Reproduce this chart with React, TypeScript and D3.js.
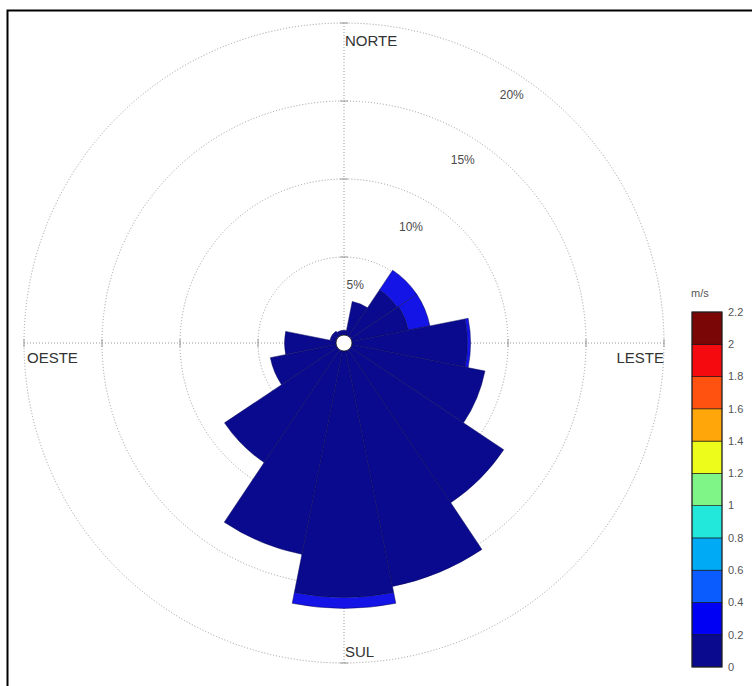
import React from "react";
import * as d3 from "d3";

// Wind rose: 16 compass sectors, frequency (%) stacked by wind-speed class
const directions = ["N", "NNE", "NE", "ENE", "E", "ESE", "SE", "SSE", "S", "SSW", "SW", "WSW", "W", "WNW", "NW", "NNW"];
const freqClass1 = [0.3, 2.2, 3.6, 3.7, 7.4, 8.7, 11.8, 15.4, 15.8, 13.3, 8.7, 4.3, 3.3, 0.4, 0.4, 0.3]; // 0–0.2 m/s
const freqClass2 = [0, 0, 1.5, 1.4, 0.2, 0, 0, 0, 0.7, 0, 0, 0, 0, 0, 0, 0]; // 0.2–0.4 m/s

const ringValues = [5, 10, 15, 20];
const ringLabels = ["5%", "10%", "15%", "20%"];
const compassLabels = ["NORTE", "LESTE", "SUL", "OESTE"];

const speedTicks = [0, 0.2, 0.4, 0.6, 0.8, 1, 1.2, 1.4, 1.6, 1.8, 2, 2.2];
const speedColors = [
  "#0a0a8e", "#0000f5", "#0a5cff", "#00aaf5", "#22e8dc",
  "#80f587", "#eefc1c", "#ffa60a", "#ff5210", "#f50a0f", "#7a0606",
];
// petal fills per speed class (slightly softer than the bar swatches)
const petalColors = ["#0a0a8e", "#1414e6"];

export default function App() {
  const W = 752;
  const H = 686;
  const cx = 344;
  const cy = 343;
  const r = d3.scaleLinear().domain([0, 20]).range([8, 320]);
  const step = (2 * Math.PI) / directions.length;

  const arc = d3.arc<any>();
  const stacks = [freqClass1, freqClass2];

  const petals: { d: string; color: string; key: string }[] = [];
  directions.forEach((dir, i) => {
    let base = 0;
    stacks.forEach((series, k) => {
      const v = series[i];
      if (v <= 0) return;
      const d = arc({
        innerRadius: r(base),
        outerRadius: r(base + v),
        startAngle: i * step - step / 2,
        endAngle: i * step + step / 2,
      }) as string;
      petals.push({ d, color: petalColors[k], key: `${dir}-${k}` });
      base += v;
    });
  });

  // ring label placement: compass bearing (deg) and inset from ring
  const labelBearing = [11, 30, 33, 34];
  const labelInset = [27, 30, 24, 20];

  const cb = d3.scaleLinear().domain([0, 2.2]).range([667, 312]);
  const cbX = 692;
  const cbW = 30;

  const grid = "#9a9a9a";
  const textCol = "#4a4a4a";
  const font = "'Liberation Sans', Arial, sans-serif";

  return (
    <svg width={W} height={H} style={{ position: "absolute", left: 0, top: 0, background: "#fff" }} fontFamily={font}>
      <rect x={0} y={0} width={W} height={H} fill="#fff" />
      {/* frame */}
      <rect x={7.5} y={10.5} width={W + 20} height={H + 20} fill="none" stroke="#000" strokeWidth={2} />

      {/* grid */}
      <g transform={`translate(${cx},${cy})`} fill="none" stroke={grid} strokeWidth={1} strokeDasharray="1,2">
        {ringValues.map((v) => (
          <circle key={v} r={r(v)} />
        ))}
        <line x1={-r(20)} x2={r(20)} y1={0} y2={0} />
        <line y1={-r(20)} y2={r(20)} x1={0} x2={0} />
      </g>
      <g transform={`translate(${cx},${cy})`} stroke={grid} strokeWidth={1}>
        {ringValues.map((v) => (
          <g key={v}>
            <line x1={r(v)} x2={r(v)} y1={-4} y2={4} />
            <line x1={-r(v)} x2={-r(v)} y1={-4} y2={4} />
            <line y1={r(v)} y2={r(v)} x1={-4} x2={4} />
            <line y1={-r(v)} y2={-r(v)} x1={-4} x2={4} />
          </g>
        ))}
      </g>

      {/* petals */}
      <g transform={`translate(${cx},${cy})`}>
        {petals.map((p) => (
          <path key={p.key} d={p.d} fill={p.color} stroke="#08085a" strokeWidth={0.5} />
        ))}
        <circle r={r(0)} fill="#fff" stroke="#111" strokeWidth={0.8} />
      </g>

      {/* ring labels */}
      <g transform={`translate(${cx},${cy})`} fontSize={12} fill={textCol} textAnchor="middle">
        {ringValues.map((v, i) => {
          const a = (labelBearing[i] * Math.PI) / 180;
          const rr = r(v) - labelInset[i];
          return (
            <text key={v} x={rr * Math.sin(a)} y={-rr * Math.cos(a)} dy="0.35em">
              {ringLabels[i]}
            </text>
          );
        })}
      </g>

      {/* compass labels */}
      <g fontSize={15} fill="#333">
        <text x={cx + 1} y={cy - r(20) + 23}>{compassLabels[0]}</text>
        <text x={cx + r(20)} y={cy + 20} textAnchor="end">{compassLabels[1]}</text>
        <text x={cx + 1} y={cy + r(20) - 6}>{compassLabels[2]}</text>
        <text x={cx - r(20) + 3} y={cy + 20}>{compassLabels[3]}</text>
      </g>

      {/* colour bar */}
      <g>
        {speedColors.map((c, i) => (
          <rect
            key={c}
            x={cbX}
            y={cb(speedTicks[i + 1])}
            width={cbW}
            height={cb(speedTicks[i]) - cb(speedTicks[i + 1])}
            fill={c}
            stroke="#111"
            strokeWidth={0.6}
          />
        ))}
        <rect x={cbX} y={cb(2.2)} width={cbW} height={cb(0) - cb(2.2)} fill="none" stroke="#222" strokeWidth={1} />
        {speedTicks.map((t) => (
          <text key={t} x={cbX + cbW + 6} y={cb(t)} dy="0.35em" fontSize={11} fill="#555">
            {String(t)}
          </text>
        ))}
        <text x={cbX - 1} y={cb(2.2) - 15} fontSize={11} fill="#555">m/s</text>
      </g>
    </svg>
  );
}
